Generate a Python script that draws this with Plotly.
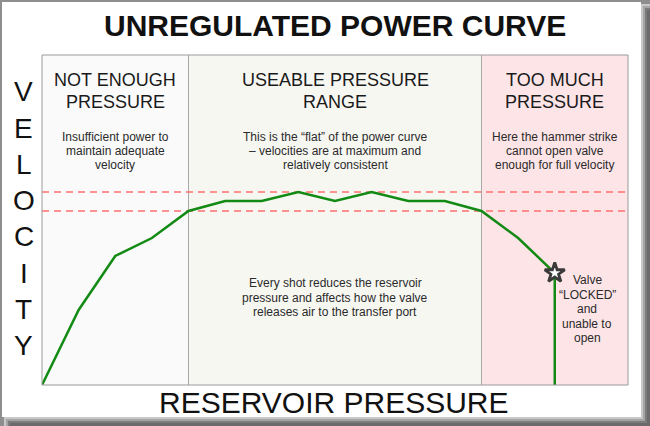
import plotly.graph_objects as go

# ---------------- data ----------------
pressure = [0, 1, 2, 3, 4, 5, 6, 7, 8, 9, 10, 11, 12, 13, 14, 14]
velocity = [0, 75, 129, 147, 174, 184, 184, 193, 184, 193, 184, 184, 174, 147, 112, 0]
locked_point = (14, 112)
band_levels = [174, 193]
region_edges = [0, 4, 12, 16]
region_colors = ["#fafafa", "#f7f7f2", "#fde4e7"]
region_titles = [["NOT ENOUGH", "PRESSURE"], ["USEABLE PRESSURE", "RANGE"], ["TOO MUCH", "PRESSURE"]]
region_notes = [
    ["Insufficient power to", "maintain adequate", "velocity"],
    ["This is the \u201cflat\u201d of the power curve", "\u2013 velocities are at maximum and", "relatively consistent"],
    ["Here the hammer strike", "cannot open valve", "enough for full velocity"],
]
middle_note = ["Every shot reduces the reservoir", "pressure and affects how the valve", "releases air to the transfer port"]
locked_note = ["Valve", "\u201cLOCKED\u201d", "and", "unable to", "open"]
title_text = "UNREGULATED POWER CURVE"
x_label = "RESERVOIR PRESSURE"
y_label = "VELOCITY"

# ---------------- layout geometry (pixels) ----------------
W, H = 650, 426
PL, PR, PT, PB = 42, 628, 55, 385
FONT = "Liberation Sans, Arial, sans-serif"


def px(x):
    return (x - PL) / (PR - PL)


def py(y):
    return (PB - y) / (PB - PT)


fig = go.Figure()

fig.add_trace(go.Scatter(
    x=pressure, y=velocity, mode="lines",
    line=dict(color="#138a13", width=2.5), hoverinfo="skip", showlegend=False,
))
fig.add_trace(go.Scatter(
    x=[locked_point[0]], y=[locked_point[1]], mode="markers",
    marker=dict(symbol="star", size=15, color="white", line=dict(color="#3a3a3a", width=2.8)),
    hoverinfo="skip", showlegend=False,
))

shapes = []
# frame: gray background, shadow bands, white card
shadow = [("#c8c8c8", 641), ("#a4a4a4", 643), ("#7c7c7c", 645), ("#6a6a6a", 647)]
for col, off in shadow:
    d = off - 641
    shapes.append(dict(type="rect", xref="paper", yref="paper", layer="below",
                       x0=px(off), x1=px(650), y0=py(H), y1=py(4 + d),
                       fillcolor=col, line=dict(width=0)))
    shapes.append(dict(type="rect", xref="paper", yref="paper", layer="below",
                       x0=px(4 + d), x1=px(650), y0=py(H), y1=py(417 + d),
                       fillcolor=col, line=dict(width=0)))
shapes.append(dict(type="rect", xref="paper", yref="paper", layer="below",
                   x0=px(2), x1=px(641), y0=py(417), y1=py(2),
                   fillcolor="white", line=dict(width=0)))
# regions
for i in range(3):
    shapes.append(dict(type="rect", xref="x", yref="paper", layer="below",
                       x0=region_edges[i], x1=region_edges[i + 1], y0=0, y1=1,
                       fillcolor=region_colors[i], line=dict(width=0)))
for xe in region_edges[1:-1]:
    shapes.append(dict(type="line", xref="x", yref="paper", layer="below",
                       x0=xe, x1=xe, y0=0, y1=1, line=dict(color="#a8a8a8", width=1)))
for lv in band_levels:
    shapes.append(dict(type="line", xref="paper", yref="y", layer="below",
                       x0=0, x1=1, y0=lv, y1=lv,
                       line=dict(color="#ff7070", width=1.3, dash="7px,5px")))
# plot border
shapes.append(dict(type="rect", xref="paper", yref="paper", layer="above",
                   x0=0, x1=1, y0=0, y1=1, line=dict(color="#9a9a9a", width=1)))

ann = []
ann.append(dict(text=f"<b>{title_text}</b>", xref="paper", yref="paper", x=px(335), y=py(26),
                showarrow=False, xanchor="center", yanchor="middle",
                font=dict(family=FONT, size=30, color="#111111")))
ann.append(dict(text=x_label, xref="paper", yref="paper", x=px(334), y=py(402),
                showarrow=False, xanchor="center", yanchor="middle",
                font=dict(family=FONT, size=30, color="#111111")))
for i, ch in enumerate(y_label):
    ann.append(dict(text=ch, xref="paper", yref="paper", x=px(23.5), y=py(92 + 36.2 * i),
                    showarrow=False, xanchor="center", yanchor="middle",
                    font=dict(family=FONT, size=28, color="#111111")))
centers = [(region_edges[i] + region_edges[i + 1]) / 2 for i in range(3)]
for i in range(3):
    for j, line in enumerate(region_titles[i]):
        ann.append(dict(text=line, xref="x", yref="paper", x=centers[i], y=py([80, 102][j]),
                        showarrow=False, xanchor="center", yanchor="middle",
                        font=dict(family=FONT, size=18, color="#1a1a1a")))
    for j, line in enumerate(region_notes[i]):
        ann.append(dict(text=line, xref="x", yref="paper", x=centers[i], y=py(137 + 14 * j),
                        showarrow=False, xanchor="center", yanchor="middle",
                        font=dict(family=FONT, size=12, color="#2a2a2a")))
for j, line in enumerate(middle_note):
    ann.append(dict(text=line, xref="x", yref="paper", x=centers[1], y=py(283 + 14.5 * j),
                    showarrow=False, xanchor="center", yanchor="middle",
                    font=dict(family=FONT, size=12, color="#2a2a2a")))
for j, line in enumerate(locked_note):
    ann.append(dict(text=line, xref="paper", yref="paper", x=px(587), y=py(280 + 14.5 * j),
                    showarrow=False, xanchor="center", yanchor="middle",
                    font=dict(family=FONT, size=12, color="#2a2a2a")))

fig.update_layout(
    width=W, height=H,
    margin=dict(l=PL, r=W - PR, t=PT, b=H - PB, pad=0),
    paper_bgcolor="#8e8e8e", plot_bgcolor="#fafafa",
    xaxis=dict(range=[0, 16], visible=False, fixedrange=True),
    yaxis=dict(range=[0, 330], visible=False, fixedrange=True),
    shapes=shapes, annotations=ann, showlegend=False,
)

fig.write_html("out.html", config={"displayModeBar": False},
               post_script="document.body.style.margin='0';document.body.style.overflow='hidden';")
